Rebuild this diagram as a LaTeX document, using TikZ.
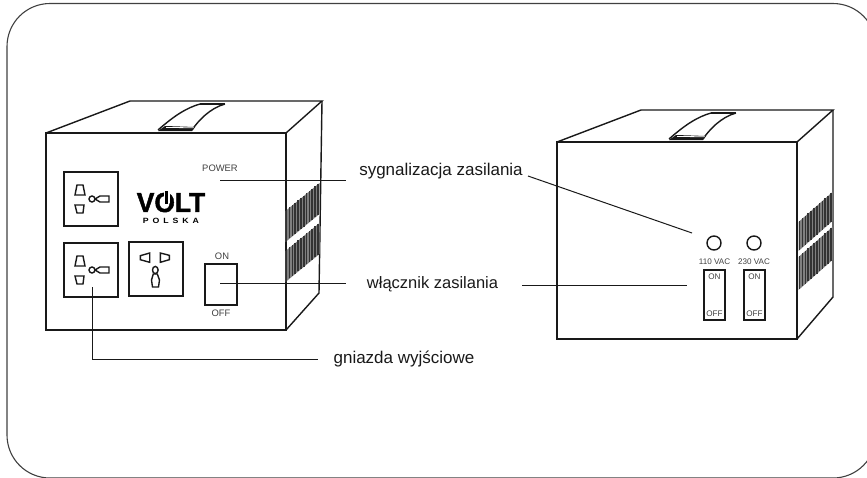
\documentclass[tikz,border=0pt]{standalone}
\usepackage{fontspec}
\setmainfont{Liberation Sans}
\newfontfamily\logofont[LetterSpace=45]{Liberation Sans}
\newfontfamily\logoheavy[FakeBold=1.6]{Liberation Sans}
\definecolor{inkline}{gray}{0.1}
\definecolor{printgray}{gray}{0.25}
\tikzset{
  outline/.style={draw=inkline,line width=1.4pt},
  thinline/.style={draw=inkline,line width=1.4pt},
  leader/.style={draw=inkline,line width=1pt},
  label/.style={inner sep=0pt,font=\fontsize{17}{19}\selectfont,text=inkline},
  print/.style={inner sep=0pt,font=\fontsize{9.4}{11}\selectfont,text=printgray},
  smallprint/.style={inner sep=0pt,font=\fontsize{8.1}{9}\selectfont,text=printgray}
}
% two flat and one round pin, shown as the wide socket
\newcommand{\socketwide}[2]{
  \begin{scope}[shift={(#1,#2)}]
    \draw [outline] (0,0) rectangle (54,54);
    \draw [thinline] (13,13) -- (19,13) -- (21,23) -- (11,23) -- cycle;
    \draw [thinline] (11,33) -- (20,33) -- (19,41) -- (13,41) -- cycle;
    \draw [thinline] (28,27) circle (3);
    \draw [thinline] (31,27) -- (36,24) -- (45,24) -- (45,30) -- (36,30) -- cycle;
  \end{scope}
}
\newcommand{\socketflag}[2]{
  \begin{scope}[shift={(#1,#2)}]
    \draw [outline] (0,0) rectangle (54,54);
    \draw [thinline] (20.7,11) -- (20.7,20.3) -- (11.3,17.7) -- (11.3,13.7) -- cycle;
    \draw [thinline] (31.3,11) -- (40.3,13.3) -- (40.3,17.7) -- (31.3,20.3) -- cycle;
    \draw [thinline] (26.3,28) ellipse (2.8 and 3.6);
    \draw [thinline] (24.3,32) -- (28.3,32) -- (30.5,38) -- (29.5,45) -- (23.5,45) -- (22.5,38) -- cycle;
  \end{scope}
}
% front, top and side of the case; #3,#4 = lower back corner
\newcommand{\voltbox}[4]{
  \begin{scope}[shift={(#1,#2)}]
    \draw [outline] (0,0) rectangle (240,197);
    \draw [outline] (0,0) -- (84,-32) -- (276,-32) -- (240,0);
    \draw [outline] (276,-32) -- (#3,#4) -- (240,197);
    \draw [thinline] (112,-3) .. controls (128,-17) and (140,-25) .. (154,-29);
    \draw [thinline] (146,-3) .. controls (152,-12) and (164,-25) .. (179,-29);
    \draw [line width=1.7pt,draw=inkline] (154,-29) -- (179,-29);
    \fill [inkline] (112,-2) -- (146,-2) -- (149,-6) -- (119,-7) -- cycle;
    \fill [white] (120,-5.2) -- (147,-4.8) -- (148,-5.6) -- (120,-6) -- cycle;
  \end{scope}
}
% one slanted group of ribs
\newcommand{\ventband}[4]{
  \begin{scope}[shift={(#1,#2)}]
    \fill [gray] (0,0) -- (34,#4) -- (34,#3+#4) -- (0,#3) -- cycle;
    \foreach \rib in {0,...,11}
      \fill [black!80] ({0.3+\rib*2.85},{#4*(\rib+0.6)/12}) rectangle ++(1.6,#3);
  \end{scope}
}

\begin{document}
\begin{tikzpicture}[x=1pt,y=-1pt]
  \useasboundingbox (0,0) rectangle (867,477);
  \draw [draw=printgray,line width=1.1pt,rounded corners=43pt] (7,3.5) rectangle (876,478);

  % left unit
  \voltbox{46}{133}{273}{160}
  \ventband{285.5}{211}{31}{-28}
  \ventband{285.5}{251}{31}{-28}
  \socketwide{64}{172}
  \socketwide{64}{243}
  \socketflag{129}{242}
  \draw [outline] (205,264) rectangle (237,305);
  \node [print] (powertext) at (220,168) {POWER};
  \node [print] (ontext) at (222,256) {ON};
  \node [print] (offtext) at (221,313) {OFF};

  % logo
  \node [inner sep=0pt,font=\logoheavy\bfseries\fontsize{27.5}{30}\selectfont,xscale=0.96,text=black] (volttext) at (171,202.5) {VOLT};
  \fill [white] (163.5,189) rectangle (169.5,203);
  \fill [black] (165.1,191) rectangle (167.9,204);
  \node [inner sep=0pt,font=\logofont\bfseries\fontsize{7.6}{9}\selectfont,xscale=1.15,text=black] (polskatext) at (171,221) {POLSKA};

  % right unit
  \voltbox{557}{142}{276}{155}
  \ventband{798.5}{222}{29}{-30}
  \ventband{798.5}{257}{33}{-30}
  \draw [outline] (714,243) circle (7);
  \draw [outline] (754,243) circle (7);
  \node [smallprint] (vactext) at (714.5,262) {110 VAC};
  \node [smallprint] (vbctext) at (754,262) {230 VAC};
  \draw [outline] (704,270) rectangle (725,320);
  \draw [outline] (744,270) rectangle (765,320);
  \node [smallprint] (onone) at (714.5,277) {ON};
  \node [smallprint] (ontwo) at (754.5,277) {ON};
  \node [smallprint] (offone) at (714.5,314) {OFF};
  \node [smallprint] (offtwo) at (754.5,314) {OFF};

  % labels and their lines
  \node [label] (signaltext) at (441,171) {sygnalizacja zasilania};
  \node [label,font=\fontsize{16.5}{19}\selectfont] (switchtext) at (432.5,284) {włącznik zasilania};
  \node [label] (outlettext) at (404,359) {gniazda wyjściowe};

  \coordinate (powerstart) at (220,180);
  \coordinate (powerend) at (346,180);
  \coordinate (signalstart) at (528,176);
  \coordinate (signalend) at (692,233);
  \coordinate (knobstart) at (220,283);
  \coordinate (knobend) at (346,283);
  \coordinate (railstart) at (522,285);
  \coordinate (railend) at (687,285);
  \coordinate (plugstart) at (92,287);
  \coordinate (plugbend) at (92,359);
  \coordinate (plugend) at (318,359);

  \draw [leader] (powerstart) -- (powerend);
  \draw [leader] (signalstart) -- (signalend);
  \draw [leader] (knobstart) -- (knobend);
  \draw [leader] (railstart) -- (railend);
  \draw [leader] (plugstart) -- (plugbend) -- (plugend);
\end{tikzpicture}
\end{document}
